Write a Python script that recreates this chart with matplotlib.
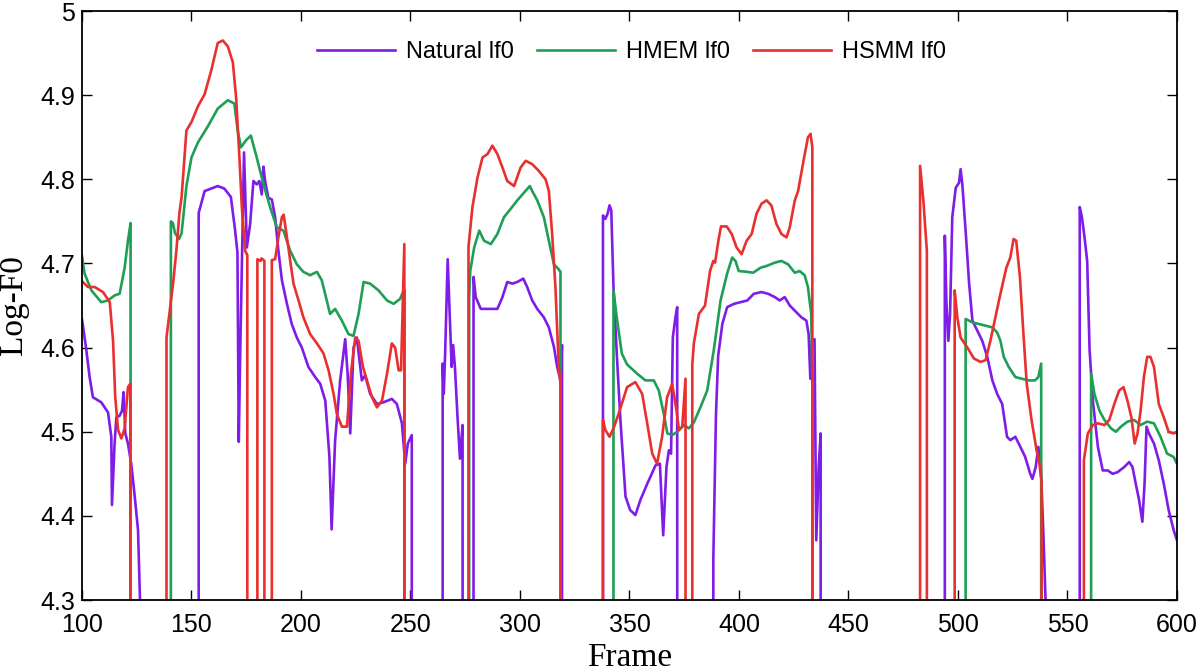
import matplotlib
matplotlib.use('Agg')
import matplotlib.pyplot as plt
from matplotlib import font_manager

# valor usado nos quadros não vozeados (fica abaixo do eixo)
UNV = 0.0

# Natural lf0
nat_f = [100, 102, 103.5, 105, 108.8, 111.9, 113.4, 113.7, 114.9, 115.7, 117.2, 118.3, 119, 119.8, 121,
         122.5, 124.1, 125.6, 126.5, 126.6,
         153.3, 153.3, 156, 158, 162, 165, 168, 169.9, 171, 171.6, 172.3, 173.2, 174, 175.3, 176.8, 178.3,
         179.8, 181, 182.1, 182.9, 183.6, 185.1, 186.7, 188.2, 189.7, 191.3, 193.6, 195.8, 198.1, 200.4,
         203.4, 206.5, 208.8, 211.1, 213, 214, 215.6, 217.9, 220.2, 221.3, 222.5, 224, 225.5, 227.8, 229.3,
         231.6, 234.7, 237.7, 241.5, 243.8, 246.1, 247.6, 248.8, 250.6, 250.6,
         264.7, 264.7, 265.2, 265.8, 267, 267.7, 268.8, 269.5, 270.3, 271.5, 272.6, 273.8, 274.1,
         278.8, 278.8, 279.8, 282.1, 289.7, 292, 294.2, 296.5, 298.8, 301.5, 303.3, 305.6, 307.9, 310.9,
         313.2, 315.5, 317, 318.5, 319.2, 319.3,
         337.9, 337.9, 339, 340, 340.9, 341.7, 342.7, 344.2, 345.8, 348.2, 350.3, 352.7, 355, 358.1, 361.9,
         363.9, 365.4, 366.9, 368, 369, 369.8, 371, 371.8, 372,
         387.5, 388.3, 389.5, 390.5, 392.4, 394.6, 397.7, 400.7, 403.8, 406.8, 410.3, 413.3, 416.4, 418.6,
         420.9, 423.2, 425.5, 428.5, 430.8, 431.8, 432.6, 433.3, 434.5, 435.3, 436.4, 437.3, 437.4,
         494, 494, 494.7, 495.6, 496.4, 497.4, 499, 500.5, 501.2, 502, 503.6, 505.1, 506.6, 508.1, 509.6,
         511.1, 513.4, 515.7, 517.9, 520.2, 522.4, 523.9, 526.2, 528.5, 530.7, 533, 534, 535.5, 536.7,
         537.8, 539, 540, 540.1,
         555.6, 555.6, 556.6, 557.8, 559, 560.1, 561.6, 563.9, 566.1, 568.4, 570.6, 572.9, 575.9, 578.2,
         579.7, 581.2, 582.7, 584.2, 585.2, 586.1, 587.2, 589.5, 591.7, 594, 596.2, 598.5, 600]
nat_v = [4.634, 4.597, 4.565, 4.541, 4.535, 4.523, 4.494, 4.413, 4.486, 4.517, 4.519, 4.525, 4.547, 4.498, 4.486,
         4.462, 4.423, 4.383, 4.30, UNV,
         UNV, 4.760, 4.786, 4.788, 4.792, 4.789, 4.779, 4.740, 4.713, 4.488, 4.600, 4.720, 4.832, 4.719, 4.747, 4.798,
         4.794, 4.798, 4.782, 4.815, 4.798, 4.778, 4.776, 4.755, 4.715, 4.680, 4.652, 4.628, 4.612, 4.600,
         4.577, 4.565, 4.557, 4.537, 4.470, 4.384, 4.490, 4.561, 4.610, 4.569, 4.498, 4.600, 4.612, 4.561, 4.567,
         4.545, 4.533, 4.535, 4.539, 4.533, 4.510, 4.462, 4.486, 4.496, UNV,
         UNV, 4.581, 4.545, 4.590, 4.705, 4.656, 4.577, 4.603, 4.577, 4.517, 4.468, 4.508, UNV,
         UNV, 4.684, 4.660, 4.646, 4.646, 4.660, 4.678, 4.676, 4.678, 4.682, 4.672, 4.656, 4.646, 4.636,
         4.624, 4.601, 4.577, 4.561, 4.603, UNV,
         UNV, 4.757, 4.753, 4.759, 4.769, 4.763, 4.672, 4.593, 4.517, 4.423, 4.407, 4.401, 4.419, 4.438, 4.460,
         4.462, 4.377, 4.458, 4.478, 4.474, 4.612, 4.636, 4.648, UNV,
         UNV, 4.350, 4.520, 4.590, 4.628, 4.648, 4.652, 4.654, 4.656, 4.664, 4.666, 4.664, 4.660, 4.656,
         4.660, 4.650, 4.644, 4.636, 4.632, 4.616, 4.563, 4.608, 4.610, 4.371, 4.458, 4.498, UNV,
         UNV, 4.733, 4.656, 4.608, 4.640, 4.755, 4.790, 4.796, 4.812, 4.794, 4.735, 4.676, 4.632, 4.624, 4.616,
         4.608, 4.589, 4.561, 4.545, 4.533, 4.494, 4.490, 4.494, 4.482, 4.470, 4.450, 4.444, 4.458, 4.482,
         4.462, 4.379, 4.30, UNV,
         UNV, 4.767, 4.755, 4.731, 4.703, 4.597, 4.537, 4.482, 4.454, 4.454, 4.450, 4.452, 4.458, 4.464,
         4.458, 4.438, 4.419, 4.393, 4.438, 4.506, 4.498, 4.486, 4.466, 4.438, 4.407, 4.383, 4.371]

# HMEM lf0
hmem_f = [100, 101.2, 104.3, 108.8, 111.9, 114.9, 117.2, 119.5, 121, 122.2, 122.3,
          140.6, 140.6, 141.5, 142.5, 144.3, 145.5, 147.7, 150, 153, 157.5, 162, 166.6, 169.6, 171.1, 172.6,
          174.8, 177.1, 179.8, 182.9, 185.9, 189, 192, 195.1, 198.1, 201.1, 204.2, 207.3, 209.5, 213.3,
          215.6, 218.7, 221.7, 224, 226.3, 228.6, 231.6, 235.4, 239.3, 242.3, 245.3, 246.6, 247.3, 247.4,
          276.8, 276.8, 277.3, 279.1, 281.4, 283.6, 286.7, 289.7, 292.7, 295.8, 298.8, 301.8, 304.5, 305.6,
          307.9, 310.9, 313.2, 315.5, 317.7, 318.5, 318.6,
          342.7, 342.7, 344.2, 346.5, 348.9, 353.5, 357.3, 361.1, 363.4, 365.7, 367.3, 369.5, 371.8, 374.9,
          377.1, 379.4, 382.4, 385.5, 388.5, 391.6, 394.6, 396.9, 398.4, 399.9, 403.8, 406.5, 409.9, 412.6,
          416.4, 419.4, 422.4, 425.5, 427.7, 430, 431.5, 433, 433.6, 433.7,
          503.5, 503.5, 506.6, 509.6, 512.7, 515.7, 517.9, 519.4, 520.9, 523.2, 526.2, 529.2, 532.2, 535.2,
          536.7, 538, 538.2,
          560.8, 560.8, 562.3, 564.6, 566.9, 569.9, 572.1, 574.4, 577.4, 580.4, 583.4, 586.4, 589.5, 592.5,
          595.5, 598.5, 600]
hmem_v = [4.709, 4.688, 4.668, 4.654, 4.656, 4.662, 4.664, 4.695, 4.727, 4.748, UNV,
          UNV, 4.750, 4.748, 4.736, 4.729, 4.736, 4.792, 4.826, 4.844, 4.863, 4.884, 4.894, 4.890, 4.858, 4.838,
          4.846, 4.852, 4.826, 4.794, 4.767, 4.743, 4.739, 4.715, 4.699, 4.690, 4.686, 4.690, 4.680, 4.640,
          4.646, 4.632, 4.616, 4.614, 4.640, 4.678, 4.676, 4.668, 4.656, 4.652, 4.658, 4.666, 4.668, UNV,
          UNV, 4.660, 4.691, 4.719, 4.739, 4.727, 4.723, 4.735, 4.755, 4.765, 4.775, 4.784, 4.792, 4.786,
          4.775, 4.755, 4.727, 4.699, 4.693, 4.690, UNV,
          UNV, 4.668, 4.636, 4.593, 4.580, 4.569, 4.561, 4.561, 4.549, 4.521, 4.498, 4.496, 4.500, 4.508,
          4.504, 4.511, 4.529, 4.549, 4.597, 4.656, 4.688, 4.707, 4.703, 4.691, 4.690, 4.689, 4.695, 4.697,
          4.701, 4.703, 4.699, 4.689, 4.691, 4.686, 4.672, 4.640, 4.550, UNV,
          UNV, 4.634, 4.630, 4.628, 4.626, 4.624, 4.618, 4.608, 4.589, 4.577, 4.565, 4.563, 4.561, 4.561,
          4.565, 4.581, UNV,
          UNV, 4.569, 4.545, 4.525, 4.514, 4.504, 4.500, 4.506, 4.512, 4.514, 4.508, 4.512, 4.510, 4.494,
          4.474, 4.470, 4.462]

# HSMM lf0
hsmm_f = [100, 102.7, 105.8, 109.6, 112.7, 114.2, 115.2, 116.5, 118, 119.5, 121, 122.1, 122.2,
          138.6, 138.6, 140.1, 141.6, 143.1, 144.5, 145.5, 147.7, 150, 153, 156, 159, 162, 164.3, 166.6,
          168.9, 170.4, 171.9, 173, 174.5, 175.5, 175.6,
          180.1, 180.1, 181.5, 182, 183.3, 183.4,
          186.7, 186.7, 188.2, 189.7, 191.3, 192.1, 193.6, 195.1, 196.6, 198.9, 201.1, 204.2, 207.3, 210.3,
          212.6, 214.9, 216.4, 218.7, 221, 222.8, 224.8, 226.3, 228.3, 230.1, 232.4, 234.7, 237, 239.3,
          241.5, 243, 244.6, 245.7, 247.2, 247.3,
          276.5, 276.5, 278.3, 280.6, 282.9, 285.2, 287.4, 289.7, 292, 294.2, 297.3, 300.3, 302.6, 305.6,
          308.6, 311.7, 313.2, 314.7, 316.2, 317.7, 318.5, 318.6,
          337.9, 337.9, 339, 340.9, 342.7, 345, 346, 348.9, 352.7, 355.8, 358.1, 360.4, 362.6, 364.9, 367.2,
          369.5, 371.5, 372.6, 374.1, 375.6, 375.7,
          378.7, 378.7, 379.4, 381.7, 384.5, 386.8, 388.3, 389.1, 390.6, 391.8, 394.4, 396.7, 398.9, 401.2,
          403.5, 405.8, 408, 410.3, 412.6, 414.8, 417.1, 419.4, 421.7, 423.2, 425.5, 427, 429.2, 431.5,
          432.7, 433.5, 433.8,
          482.7, 482.7, 484.2, 485.8, 485.9,
          498.5, 498.5, 499.7, 501.2, 504.3, 507.3, 510.3, 512.6, 514.8, 517.1, 519.4, 522.1, 523.9, 525.4,
          526.6, 528.3, 529.9, 531.4, 533.6, 535.9, 537.2, 538.2, 538.3,
          557.5, 557.5, 559.3, 561.6, 563.9, 566.9, 569.1, 571.4, 573.6, 575.6, 577.4, 579.2, 580.7, 582,
          583.4, 584.9, 586.4, 587.9, 589.5, 591.7, 594, 596.2, 598.5, 600]
hsmm_v = [4.679, 4.672, 4.672, 4.666, 4.654, 4.608, 4.541, 4.502, 4.492, 4.504, 4.553, 4.557, UNV,
          UNV, 4.612, 4.644, 4.676, 4.715, 4.760, 4.779, 4.858, 4.868, 4.887, 4.901, 4.929, 4.962, 4.965, 4.958,
          4.939, 4.897, 4.826, 4.767, 4.715, 4.710, UNV,
          UNV, 4.705, 4.703, 4.706, 4.703, UNV,
          UNV, 4.704, 4.705, 4.731, 4.755, 4.758, 4.731, 4.703, 4.676, 4.656, 4.636, 4.616, 4.605, 4.593,
          4.573, 4.545, 4.521, 4.506, 4.506, 4.569, 4.612, 4.608, 4.577, 4.561, 4.541, 4.529, 4.537, 4.569,
          4.605, 4.600, 4.573, 4.573, 4.723, UNV,
          UNV, 4.720, 4.767, 4.802, 4.826, 4.830, 4.840, 4.830, 4.814, 4.798, 4.792, 4.814, 4.822, 4.818,
          4.810, 4.800, 4.786, 4.735, 4.672, 4.577, 4.557, UNV,
          UNV, 4.514, 4.502, 4.494, 4.504, 4.521, 4.529, 4.553, 4.559, 4.545, 4.510, 4.474, 4.462, 4.494, 4.541,
          4.557, 4.525, 4.502, 4.506, 4.563, UNV,
          UNV, 4.580, 4.605, 4.640, 4.650, 4.691, 4.703, 4.701, 4.727, 4.744, 4.744, 4.735, 4.719, 4.711,
          4.727, 4.735, 4.759, 4.771, 4.775, 4.769, 4.747, 4.735, 4.731, 4.743, 4.775, 4.786, 4.818, 4.850,
          4.854, 4.838, UNV,
          UNV, 4.816, 4.775, 4.715, UNV,
          UNV, 4.668, 4.636, 4.612, 4.600, 4.587, 4.583, 4.585, 4.608, 4.636, 4.664, 4.695, 4.707, 4.729,
          4.727, 4.684, 4.616, 4.557, 4.514, 4.478, 4.462, 4.440, UNV,
          UNV, 4.466, 4.498, 4.508, 4.510, 4.508, 4.514, 4.533, 4.549, 4.553, 4.537, 4.517, 4.486, 4.498,
          4.525, 4.565, 4.589, 4.589, 4.577, 4.533, 4.517, 4.500, 4.498, 4.500]

series_names = ['Natural lf0', 'HMEM lf0', 'HSMM lf0']
series_colors = ['#7f1ce8', '#1f9e55', '#e8302e']

x_ticks = [100, 150, 200, 250, 300, 350, 400, 450, 500, 550, 600]
y_ticks = [4.3, 4.4, 4.5, 4.6, 4.7, 4.8, 4.9, 5.0]
y_tick_labels = ['4.3', '4.4', '4.5', '4.6', '4.7', '4.8', '4.9', '5']

# fonte estreita se existir, senão a Liberation Sans normal
nomes = {f.name for f in font_manager.fontManager.ttflist}
fonte_sans = 'Liberation Sans Narrow' if 'Liberation Sans Narrow' in nomes else 'Liberation Sans'
fonte_serif = 'Liberation Serif'

fig = plt.figure(figsize=(12, 6.72), dpi=100)
ax = fig.add_axes([0.0683, 0.1071, 0.9125, 0.8765])

for f, v, nome, cor in zip([nat_f, hmem_f, hsmm_f], [nat_v, hmem_v, hsmm_v], series_names, series_colors):
    ax.plot(f, v, color=cor, linewidth=1.9, label=nome, solid_joinstyle='round')

ax.set_xlim(100, 600)
ax.set_ylim(4.3, 5.0)
ax.set_xticks(x_ticks)
ax.set_xticklabels([str(t) for t in x_ticks], fontfamily=fonte_sans, fontsize=18)
ax.set_yticks(y_ticks)
ax.set_yticklabels(y_tick_labels, fontfamily=fonte_sans, fontsize=18)
ax.tick_params(direction='in', top=True, right=True, length=7, width=1, colors='black')
ax.tick_params(axis='x', pad=9)
ax.tick_params(axis='y', pad=5)
for sp in ax.spines.values():
    sp.set_linewidth(1.3)

ax.set_xlabel('Frame', fontfamily=fonte_serif, fontsize=24, labelpad=4)
ax.set_ylabel('Log-F0', fontfamily=fonte_serif, fontsize=24, labelpad=8)

ax.legend(loc='upper center', bbox_to_anchor=(0.502, 0.985), ncol=3, frameon=False,
          prop={'family': fonte_sans, 'size': 17}, handlelength=3.3, handletextpad=0.45,
          columnspacing=1.0)

plt.savefig('out.png', dpi=100)
plt.close()
